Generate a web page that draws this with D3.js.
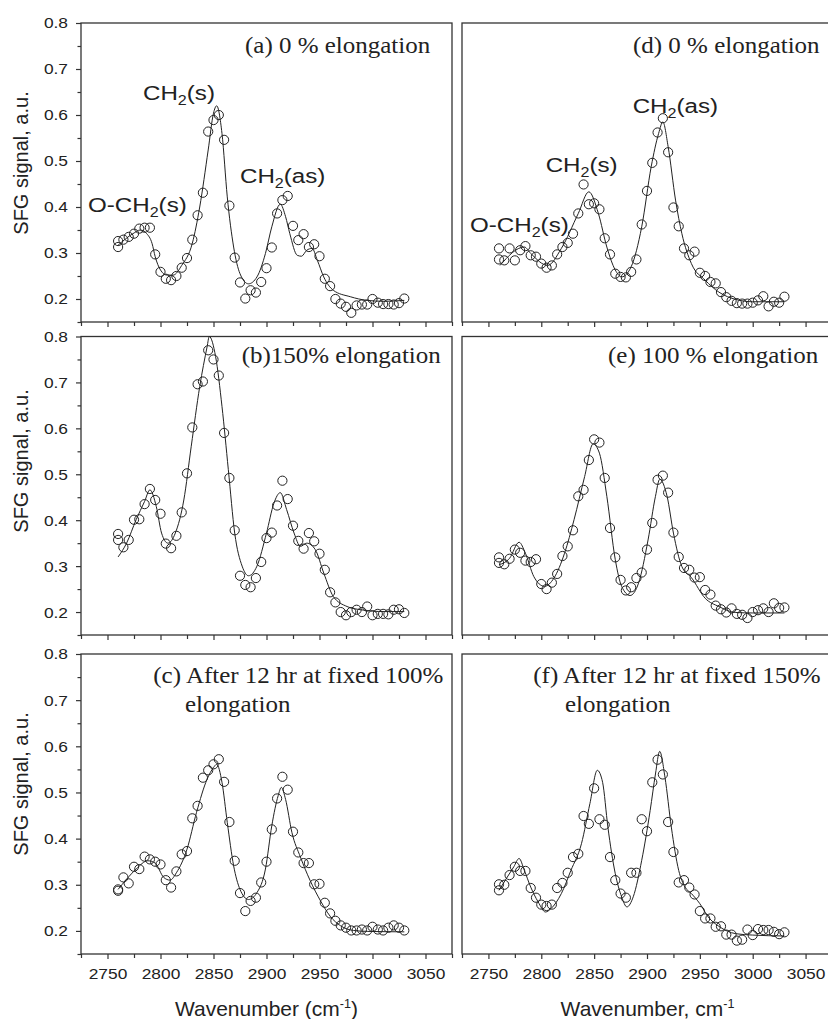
<!DOCTYPE html>
<head>
	<meta charset="utf-8">
	<title>SFG spectra</title>
</head>
<style>
body { margin: 0; background: #fff; }
.frame { fill: none; stroke: #333; stroke-width: 1.3px; }
.axis line { stroke: #333; stroke-width: 1.2px; }
.axis path { display: none; }
.axis text { font-family: "Liberation Sans", Arial, sans-serif; font-size: 15.5px; fill: #222; }
.fit { fill: none; stroke: #222; stroke-width: 1px; }
.pts circle { fill: none; stroke: #222; stroke-width: 1px; }
.title { font-family: "Liberation Serif", "Times New Roman", serif; font-size: 23.8px; fill: #222; }
.lab { font-family: "Liberation Sans", Arial, sans-serif; fill: #222; }
</style>
<svg id="svg" width="828" height="1019"></svg>
<script src="https://cdn.jsdelivr.net/npm/d3@7/dist/d3.min.js"></script>
<script>

// measured wavenumbers (two scans at 2760)
var wavenumber = [2760, 2760, 2765, 2770, 2775, 2780, 2785, 2790, 2795, 2800,
  2805, 2810, 2815, 2820, 2825, 2830, 2835, 2840, 2845, 2850,
  2855, 2860, 2865, 2870, 2875, 2880, 2885, 2890, 2895, 2900,
  2905, 2910, 2915, 2920, 2925, 2930, 2935, 2940, 2945, 2950,
  2955, 2960, 2965, 2970, 2975, 2980, 2985, 2990, 2995, 3000,
  3005, 3010, 3015, 3020, 3025, 3030];

var signalA = [0.313, 0.326, 0.329, 0.335, 0.342, 0.353, 0.355, 0.355, 0.297, 0.259,
  0.244, 0.241, 0.250, 0.268, 0.289, 0.329, 0.382, 0.431, 0.564, 0.589,
  0.600, 0.546, 0.403, 0.290, 0.236, 0.201, 0.219, 0.214, 0.237, 0.267,
  0.312, 0.386, 0.415, 0.424, 0.359, 0.328, 0.341, 0.313, 0.319, 0.293,
  0.244, 0.228, 0.200, 0.190, 0.183, 0.170, 0.186, 0.188, 0.188, 0.200,
  0.192, 0.189, 0.189, 0.188, 0.191, 0.201];
var signalB = [0.370, 0.357, 0.341, 0.357, 0.401, 0.402, 0.435, 0.468, 0.444, 0.414,
  0.349, 0.339, 0.366, 0.417, 0.502, 0.602, 0.696, 0.702, 0.770, 0.750,
  0.715, 0.590, 0.492, 0.378, 0.279, 0.259, 0.254, 0.274, 0.309, 0.361,
  0.373, 0.432, 0.486, 0.446, 0.388, 0.355, 0.338, 0.372, 0.354, 0.327,
  0.292, 0.243, 0.221, 0.200, 0.193, 0.200, 0.205, 0.200, 0.212, 0.193,
  0.196, 0.196, 0.195, 0.205, 0.206, 0.198];
var signalC = [0.290, 0.287, 0.316, 0.303, 0.339, 0.334, 0.361, 0.355, 0.350, 0.344,
  0.310, 0.294, 0.329, 0.366, 0.373, 0.444, 0.471, 0.532, 0.548, 0.561,
  0.572, 0.523, 0.436, 0.352, 0.282, 0.243, 0.265, 0.272, 0.305, 0.350,
  0.420, 0.487, 0.534, 0.506, 0.415, 0.370, 0.347, 0.347, 0.301, 0.302,
  0.261, 0.238, 0.222, 0.212, 0.207, 0.201, 0.201, 0.203, 0.201, 0.209,
  0.203, 0.201, 0.207, 0.212, 0.207, 0.201];
var signalD = [0.310, 0.286, 0.284, 0.310, 0.284, 0.306, 0.315, 0.295, 0.292, 0.277,
  0.268, 0.273, 0.297, 0.313, 0.322, 0.342, 0.386, 0.449, 0.406, 0.408,
  0.395, 0.332, 0.297, 0.255, 0.248, 0.247, 0.259, 0.286, 0.362, 0.435,
  0.496, 0.562, 0.593, 0.519, 0.399, 0.358, 0.310, 0.295, 0.303, 0.257,
  0.250, 0.237, 0.234, 0.215, 0.204, 0.196, 0.191, 0.190, 0.190, 0.192,
  0.197, 0.206, 0.184, 0.194, 0.192, 0.205];
var signalE = [0.319, 0.307, 0.304, 0.316, 0.336, 0.329, 0.312, 0.309, 0.315, 0.261,
  0.250, 0.264, 0.283, 0.322, 0.343, 0.378, 0.452, 0.466, 0.531, 0.576,
  0.569, 0.492, 0.383, 0.319, 0.270, 0.247, 0.254, 0.274, 0.286, 0.336,
  0.394, 0.488, 0.497, 0.460, 0.373, 0.320, 0.296, 0.292, 0.275, 0.276,
  0.248, 0.238, 0.214, 0.206, 0.199, 0.208, 0.196, 0.194, 0.187, 0.200,
  0.204, 0.208, 0.200, 0.219, 0.209, 0.210];
var signalF = [0.301, 0.288, 0.300, 0.321, 0.339, 0.330, 0.330, 0.293, 0.272, 0.257,
  0.254, 0.257, 0.293, 0.304, 0.326, 0.360, 0.367, 0.449, 0.432, 0.509,
  0.442, 0.430, 0.360, 0.310, 0.281, 0.272, 0.326, 0.326, 0.442, 0.416,
  0.522, 0.571, 0.539, 0.436, 0.371, 0.305, 0.310, 0.294, 0.279, 0.243,
  0.227, 0.227, 0.209, 0.210, 0.192, 0.192, 0.179, 0.181, 0.203, 0.191,
  0.204, 0.202, 0.202, 0.198, 0.193, 0.197];

// fitted curves
var fitAx = [2760, 2774, 2781, 2787, 2792, 2795, 2800, 2806, 2812, 2820, 2830, 2837, 2845, 2850, 2853, 2858, 2863, 2869, 2875, 2883, 2891, 2899, 2905, 2913, 2918, 2922, 2929, 2933, 2938, 2943, 2948, 2954, 2963, 2979, 2995, 3011, 3030];
var fitAy = [0.317, 0.342, 0.350, 0.342, 0.321, 0.292, 0.263, 0.252, 0.252, 0.273, 0.321, 0.400, 0.524, 0.604, 0.620, 0.560, 0.422, 0.313, 0.255, 0.233, 0.248, 0.299, 0.357, 0.406, 0.379, 0.342, 0.295, 0.293, 0.306, 0.310, 0.284, 0.248, 0.219, 0.205, 0.197, 0.195, 0.197];
var fitBx = [2760, 2768, 2777, 2785, 2790, 2796, 2801, 2807, 2814, 2822, 2829, 2837, 2844, 2846, 2852, 2858, 2864, 2870, 2877, 2883, 2891, 2900, 2907, 2913, 2919, 2926, 2932, 2938, 2946, 2954, 2963, 2976, 2989, 3011, 3030];
var fitBy = [0.320, 0.350, 0.401, 0.441, 0.466, 0.430, 0.372, 0.350, 0.372, 0.444, 0.561, 0.691, 0.778, 0.800, 0.756, 0.648, 0.510, 0.372, 0.300, 0.279, 0.300, 0.372, 0.437, 0.460, 0.423, 0.372, 0.343, 0.350, 0.336, 0.285, 0.234, 0.212, 0.205, 0.201, 0.201];
var fitCx = [2760, 2768, 2777, 2788, 2795, 2803, 2809, 2815, 2825, 2834, 2844, 2850, 2853, 2858, 2863, 2869, 2875, 2883, 2891, 2899, 2905, 2911, 2914, 2918, 2924, 2932, 2941, 2951, 2960, 2970, 2982, 2995, 3030];
var fitCy = [0.290, 0.312, 0.334, 0.352, 0.347, 0.316, 0.310, 0.326, 0.377, 0.457, 0.529, 0.554, 0.561, 0.522, 0.435, 0.341, 0.290, 0.268, 0.283, 0.334, 0.428, 0.493, 0.511, 0.485, 0.413, 0.360, 0.310, 0.265, 0.232, 0.211, 0.201, 0.199, 0.198];
var fitDx = [2761, 2784, 2790, 2806, 2819, 2835, 2845, 2854, 2862, 2870, 2876, 2885, 2895, 2904, 2911, 2915, 2920, 2927, 2933, 2942, 2955, 2968, 2984, 3000, 3030];
var fitDy = [0.273, 0.313, 0.299, 0.273, 0.310, 0.386, 0.433, 0.386, 0.313, 0.263, 0.248, 0.270, 0.357, 0.488, 0.560, 0.585, 0.531, 0.415, 0.342, 0.277, 0.241, 0.215, 0.199, 0.194, 0.194];
var fitEx = [2760, 2770, 2779, 2785, 2793, 2803, 2812, 2822, 2831, 2841, 2849, 2855, 2862, 2870, 2876, 2884, 2892, 2901, 2908, 2912, 2919, 2925, 2933, 2942, 2955, 2968, 2984, 3000, 3030];
var fitEy = [0.303, 0.317, 0.352, 0.328, 0.277, 0.256, 0.274, 0.328, 0.401, 0.495, 0.566, 0.546, 0.452, 0.314, 0.256, 0.236, 0.263, 0.357, 0.452, 0.489, 0.452, 0.372, 0.299, 0.275, 0.230, 0.212, 0.199, 0.198, 0.198];
var fitFx = [2760, 2766, 2774, 2779, 2784, 2790, 2797, 2804, 2809, 2819, 2828, 2838, 2846, 2853, 2858, 2863, 2870, 2876, 2881, 2887, 2895, 2903, 2908, 2912, 2917, 2923, 2930, 2936, 2942, 2950, 2958, 2968, 2984, 3000, 3030];
var fitFy = [0.288, 0.310, 0.339, 0.357, 0.331, 0.295, 0.263, 0.241, 0.248, 0.281, 0.331, 0.389, 0.476, 0.548, 0.522, 0.425, 0.324, 0.274, 0.252, 0.274, 0.353, 0.461, 0.540, 0.589, 0.533, 0.425, 0.331, 0.295, 0.281, 0.259, 0.230, 0.210, 0.194, 0.191, 0.189];

var xMajor = [2750, 2800, 2850, 2900, 2950, 3000, 3050];
var xMinor = [2725, 2775, 2825, 2875, 2925, 2975, 3025, 3075];
var yMajor = [0.2, 0.3, 0.4, 0.5, 0.6, 0.7, 0.8];
var yMinor = [0.15, 0.25, 0.35, 0.45, 0.55, 0.65, 0.75];

var titles = [["(a) 0 % elongation"], ["(b)150% elongation"], ["(c) After 12 hr at fixed 100%", "elongation"],
              ["(d) 0 % elongation"], ["(e) 100 % elongation"], ["(f) After 12 hr at fixed 150%", "elongation"]];
var peakLabels = ["O-CH2(s)", "CH2(s)", "CH2(as)"];

var svg = d3.select("svg");

var cols = [[81, 452], [462, 832]];
var rows = [{top: 23, bottom: 322, ymid: 163}, {top: 336.5, bottom: 635, ymid: 461}, {top: 654, bottom: 954, ymid: 784}];

// title anchor (start x, baseline) relative to panel corner; second line too
var panels = [
  {col: 0, row: 0, sig: signalA, fx: fitAx, fy: fitAy, title: titles[0], tpos: [[164, 30.3]],
   labs: [[7, 188.7], [62, 77], [159, 159.7]]},
  {col: 0, row: 1, sig: signalB, fx: fitBx, fy: fitBy, title: titles[1], tpos: [[160.7, 26.8]]},
  {col: 0, row: 2, sig: signalC, fx: fitCx, fy: fitCy, title: titles[2], tpos: [[72.3, 29.3], [104, 57.7]]},
  {col: 1, row: 0, sig: signalD, fx: fitDx, fy: fitDy, title: titles[3], tpos: [[171, 30]],
   labs: [[8, 208.7], [83.7, 148.7], [170.7, 90.3]]},
  {col: 1, row: 1, sig: signalE, fx: fitEx, fy: fitEy, title: titles[4], tpos: [[146, 26.5]]},
  {col: 1, row: 2, sig: signalF, fx: fitFx, fy: fitFy, title: titles[5], tpos: [[71.3, 29], [103, 57.7]]}
];

function stretched(g, x, y, sx, cls) {
  return g.append("text").attr("class", cls)
    .attr("transform", "translate(" + x + "," + y + ") scale(" + sx + ",1)");
}

panels.forEach(function(p) {
  var r = rows[p.row], c = cols[p.col];
  var x = d3.scaleLinear().domain([2725, 3075]).range(c);
  var y = d3.scaleLinear().domain([0.15, 0.8]).range([r.bottom, r.top]);
  var g = svg.append("g");
  var last = p.row == 2;

  g.append("rect").attr("class", "frame")
    .attr("x", c[0]).attr("y", r.top)
    .attr("width", c[1] - c[0]).attr("height", r.bottom - r.top);

  // bottom axis, major + minor ticks
  var xa = g.append("g").attr("class", "axis").attr("transform", "translate(0," + r.bottom + ")")
    .call(d3.axisBottom(x).tickValues(xMajor).tickSize(5).tickPadding(9)
      .tickFormat(last ? d3.format("d") : ""));
  xa.selectAll("text").attr("transform", "scale(1.12,1)");
  g.append("g").attr("class", "axis").attr("transform", "translate(0," + r.bottom + ")")
    .call(d3.axisBottom(x).tickValues(xMinor).tickSize(4).tickFormat(""));

  if (p.col == 0) {
    var ya = g.append("g").attr("class", "axis").attr("transform", "translate(" + c[0] + ",0)")
      .call(d3.axisLeft(y).tickValues(yMajor).tickSize(5).tickPadding(6.6).tickFormat(d3.format(".1f")));
    ya.selectAll("text").attr("transform", "scale(1.12,1)");
    g.append("g").attr("class", "axis").attr("transform", "translate(" + c[0] + ",0)")
      .call(d3.axisLeft(y).tickValues(yMinor).tickSize(3.5).tickFormat(""));

    g.append("text").attr("class", "lab")
      .attr("transform", "translate(28," + r.ymid + ") rotate(-90)")
      .attr("text-anchor", "middle").style("font-size", "20px")
      .text("SFG signal, a.u.");
  }

  var line = d3.line()
    .x(function(d, i) { return x(p.fx[i]); })
    .y(function(d) { return y(d); })
    .curve(d3.curveMonotoneX);
  g.append("path").attr("class", "fit").attr("d", line(p.fy));

  g.append("g").attr("class", "pts").selectAll("circle")
    .data(p.sig)
    .enter().append("circle")
      .attr("cx", function(d, i) { return x(wavenumber[i]); })
      .attr("cy", function(d) { return y(d); })
      .attr("r", 4.6);

  p.title.forEach(function(t, i) {
    stretched(g, c[0] + p.tpos[i][0], r.top + p.tpos[i][1], 1.05, "title").text(t);
  });

  if (p.labs) {
    peakLabels.forEach(function(s, i) {
      var bits = s.split("2");
      var t = stretched(g, c[0] + p.labs[i][0], r.top + p.labs[i][1], 1.15, "lab").style("font-size", "21px");
      t.append("tspan").text(bits[0]);
      t.append("tspan").attr("dy", 5).style("font-size", "14px").text("2");
      t.append("tspan").attr("dy", -5).text(bits[1]);
    });
  }
});

// x axis titles
function xTitle(cx, pre, post) {
  var t = stretched(svg, cx, 1016, 1.05, "lab").attr("text-anchor", "middle").style("font-size", "20px");
  t.append("tspan").text(pre);
  t.append("tspan").attr("dy", -8).style("font-size", "12px").text("-1");
  if (post) t.append("tspan").attr("dy", 8).text(post);
}
xTitle(266.5, "Wavenumber (cm", ")");
xTitle(647.5, "Wavenumber, cm", "");

</script>
